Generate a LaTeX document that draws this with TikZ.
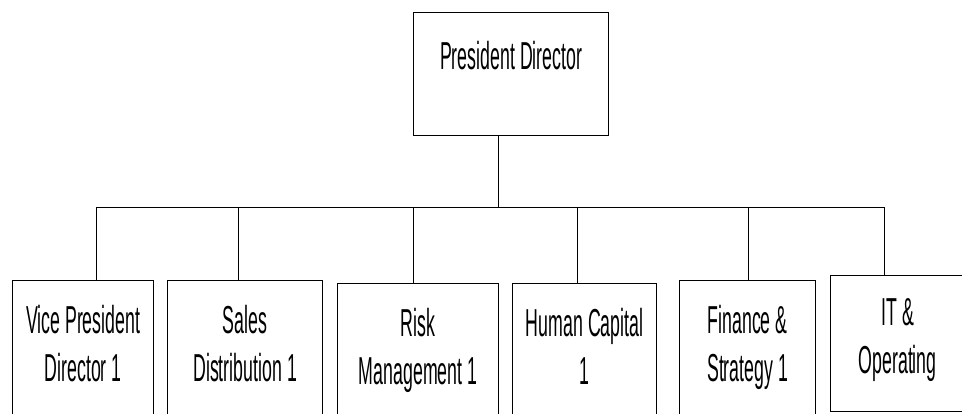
\documentclass[tikz,border=0pt]{standalone}
\usepackage{fontspec}
\setmainfont[FakeStretch=0.455]{Liberation Sans}

\begin{document}
\begin{tikzpicture}[x=1pt, y=-1pt,
    post/.style={draw, line width=1.3pt, inner sep=0pt, align=center,
      anchor=north west, text=black,
      font=\fontsize{39}{48}\selectfont},
    link/.style={line width=1pt}]
    \useasboundingbox (0,0) rectangle (962,413);
    \node [post, minimum width=195pt, text height=57pt, text depth=66pt] (pd) at (413,12) {President Director};
    \node [post, minimum width=141pt, text height=101pt, text depth=92pt] (vp) at (12,280) {Vice President\\Director 1};
    \node [post, minimum width=155pt, text height=101pt, text depth=92pt] (sd) at (167,280) {Sales\\Distribution 1};
    \node [post, minimum width=161pt, text height=101pt, text depth=92pt] (rm) at (337,283) {Risk\\Management 1};
    \node [post, minimum width=144pt, text height=101pt, text depth=92pt] (hc) at (512,283) {Human Capital\\1};
    \node [post, minimum width=136pt, text height=101pt, text depth=92pt] (fs) at (679,280) {Finance \&\\Strategy 1};
    \node [post, minimum width=134pt, text height=98pt, text depth=38pt] (it) at (830,275) {IT \&\\Operating};
    \coordinate (bt) at (498,207);
    \coordinate (b1) at (96,207);
    \coordinate (b2) at (238,207);
    \coordinate (b3) at (413,207);
    \coordinate (b4) at (577,207);
    \coordinate (b5) at (748,207);
    \coordinate (b6) at (884,207);
    \draw [link] (bt |- pd.south) -- (bt);
    \draw [link] (b1) -- (b6);
    \foreach \b/\n in {b1/vp, b2/sd, b3/rm, b4/hc, b5/fs, b6/it}
      \draw [link] (\b) -- (\b |- \n.north);
  \end{tikzpicture}
\end{document}
